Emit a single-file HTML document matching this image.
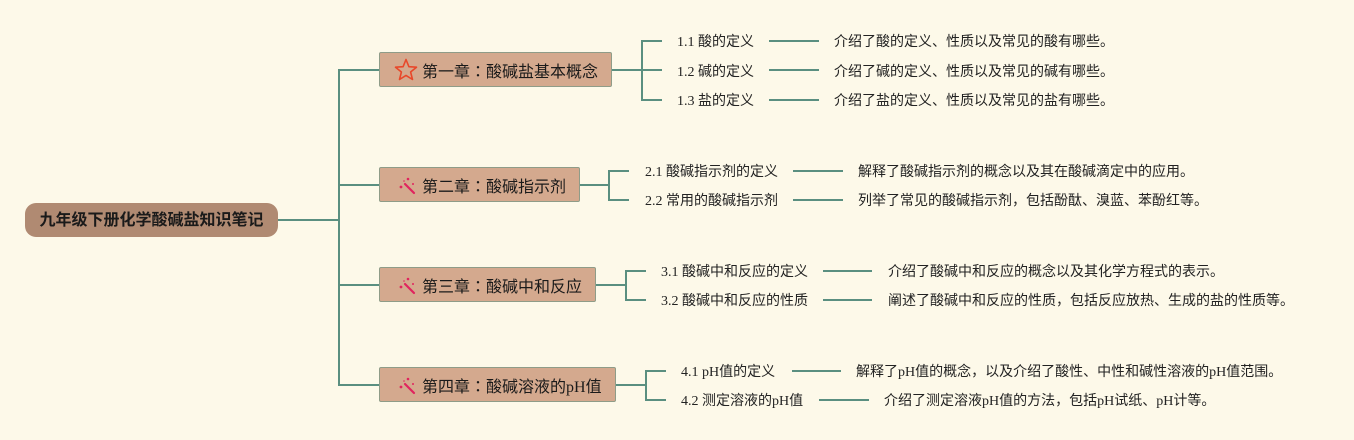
<!DOCTYPE html>
<html><head><meta charset="utf-8">
<style>
html,body{margin:0;padding:0;}
body{width:1354px;height:440px;background:#fdf9e9;position:relative;overflow:hidden;font-family:"Liberation Serif","Noto Sans CJK SC",serif;color:#222;}
.abs{position:absolute;white-space:nowrap;}
.root{left:25px;top:203px;width:253px;height:34px;background:#b08a72;border-radius:11px;font-weight:bold;font-size:16px;line-height:35px;text-align:center;color:#1a1a1a;font-family:"Liberation Sans","Noto Sans CJK SC",sans-serif;}
.ch{left:379px;height:35px;background:#d4a98e;border:1px solid #8f9c88;border-radius:2px;box-sizing:border-box;font-size:16px;line-height:34px;color:#1a1a1a;}
.ch .t{position:absolute;left:42px;top:0;}
.ch .k{font-family:"Noto Sans CJK JP",sans-serif;}
.ch svg{position:absolute;}
.c{font-size:14px;line-height:20px;color:#222;}
</style></head><body>
<svg class="abs" style="left:0;top:0" width="1354" height="440">
<g stroke="#5a8f80" stroke-width="2" fill="none">
<line x1="278" y1="220" x2="340" y2="220"/>
<line x1="339" y1="69" x2="339" y2="386"/>
<line x1="339" y1="70" x2="379" y2="70"/>
<line x1="339" y1="185" x2="379" y2="185"/>
<line x1="339" y1="285" x2="379" y2="285"/>
<line x1="339" y1="385" x2="379" y2="385"/>
<line x1="612" y1="70" x2="642" y2="70"/>
<polyline points="662,41 642,41 642,100 662,100"/>
<line x1="642" y1="70" x2="662" y2="70"/>
<line x1="769" y1="41" x2="819" y2="41"/>
<line x1="769" y1="70" x2="819" y2="70"/>
<line x1="769" y1="100" x2="819" y2="100"/>
<line x1="580" y1="185" x2="609" y2="185"/>
<polyline points="629,171 609,171 609,200 629,200"/>
<line x1="793" y1="171" x2="843" y2="171"/>
<line x1="793" y1="200" x2="843" y2="200"/>
<line x1="596" y1="285" x2="626" y2="285"/>
<polyline points="646,271 626,271 626,300 646,300"/>
<line x1="823" y1="271" x2="872" y2="271"/>
<line x1="823" y1="300" x2="872" y2="300"/>
<line x1="616" y1="385" x2="646" y2="385"/>
<polyline points="666,371 646,371 646,400 666,400"/>
<line x1="792" y1="371" x2="841" y2="371"/>
<line x1="819" y1="400" x2="869" y2="400"/>
</g>
</svg>

<div class="abs root">九年级下册化学酸碱盐知识笔记</div>

<div class="abs ch" style="top:52px;width:233px;">
<svg style="left:14px;top:5px" width="24" height="24" viewBox="0 0 24 24"><polygon points="12,1.5 14.9,8.7 22.5,9.2 16.6,14 18.5,21.5 12,17.4 5.5,21.5 7.4,14 1.5,9.2 9.1,8.7" fill="none" stroke="#e8482a" stroke-width="1.6" stroke-linejoin="round"/></svg>
<span class="t">第一章<span class="k">：</span>酸碱盐基本概念</span></div>

<div class="abs ch" style="top:167px;width:201px;">
<svg style="left:18px;top:8px" width="20" height="20" viewBox="0 0 20 20"><line x1="7" y1="8" x2="16" y2="17" stroke="#e0245e" stroke-width="2.2" stroke-linecap="round"/><circle cx="10" cy="3" r="1.3" fill="#e0245e"/><circle cx="3" cy="11" r="1.4" fill="#e0245e"/><circle cx="15" cy="8" r="1" fill="#e0245e"/><circle cx="6" cy="5" r="0.8" fill="#e0245e"/></svg>
<span class="t">第二章<span class="k">：</span>酸碱指示剂</span></div>

<div class="abs ch" style="top:267px;width:217px;">
<svg style="left:18px;top:8px" width="20" height="20" viewBox="0 0 20 20"><line x1="7" y1="8" x2="16" y2="17" stroke="#e0245e" stroke-width="2.2" stroke-linecap="round"/><circle cx="10" cy="3" r="1.3" fill="#e0245e"/><circle cx="3" cy="11" r="1.4" fill="#e0245e"/><circle cx="15" cy="8" r="1" fill="#e0245e"/><circle cx="6" cy="5" r="0.8" fill="#e0245e"/></svg>
<span class="t">第三章<span class="k">：</span>酸碱中和反应</span></div>

<div class="abs ch" style="top:367px;width:237px;">
<svg style="left:18px;top:8px" width="20" height="20" viewBox="0 0 20 20"><line x1="7" y1="8" x2="16" y2="17" stroke="#e0245e" stroke-width="2.2" stroke-linecap="round"/><circle cx="10" cy="3" r="1.3" fill="#e0245e"/><circle cx="3" cy="11" r="1.4" fill="#e0245e"/><circle cx="15" cy="8" r="1" fill="#e0245e"/><circle cx="6" cy="5" r="0.8" fill="#e0245e"/></svg>
<span class="t">第四章<span class="k">：</span>酸碱溶液的pH值</span></div>

<div class="abs c" style="left:677px;top:33px;">1.1 酸的定义</div>
<div class="abs c" style="left:677px;top:63px;">1.2 碱的定义</div>
<div class="abs c" style="left:677px;top:92px;">1.3 盐的定义</div>
<div class="abs c" style="left:834px;top:33px;">介绍了酸的定义、性质以及常见的酸有哪些。</div>
<div class="abs c" style="left:834px;top:63px;">介绍了碱的定义、性质以及常见的碱有哪些。</div>
<div class="abs c" style="left:834px;top:92px;">介绍了盐的定义、性质以及常见的盐有哪些。</div>

<div class="abs c" style="left:645px;top:163px;">2.1 酸碱指示剂的定义</div>
<div class="abs c" style="left:645px;top:192px;">2.2 常用的酸碱指示剂</div>
<div class="abs c" style="left:858px;top:163px;">解释了酸碱指示剂的概念以及其在酸碱滴定中的应用。</div>
<div class="abs c" style="left:858px;top:192px;">列举了常见的酸碱指示剂，包括酚酞、溴蓝、苯酚红等。</div>

<div class="abs c" style="left:661px;top:263px;">3.1 酸碱中和反应的定义</div>
<div class="abs c" style="left:661px;top:292px;">3.2 酸碱中和反应的性质</div>
<div class="abs c" style="left:888px;top:263px;">介绍了酸碱中和反应的概念以及其化学方程式的表示。</div>
<div class="abs c" style="left:888px;top:292px;">阐述了酸碱中和反应的性质，包括反应放热、生成的盐的性质等。</div>

<div class="abs c" style="left:681px;top:363px;">4.1 pH值的定义</div>
<div class="abs c" style="left:681px;top:392px;">4.2 测定溶液的pH值</div>
<div class="abs c" style="left:856px;top:363px;">解释了pH值的概念，以及介绍了酸性、中性和碱性溶液的pH值范围。</div>
<div class="abs c" style="left:884px;top:392px;">介绍了测定溶液pH值的方法，包括pH试纸、pH计等。</div>
</body></html>
